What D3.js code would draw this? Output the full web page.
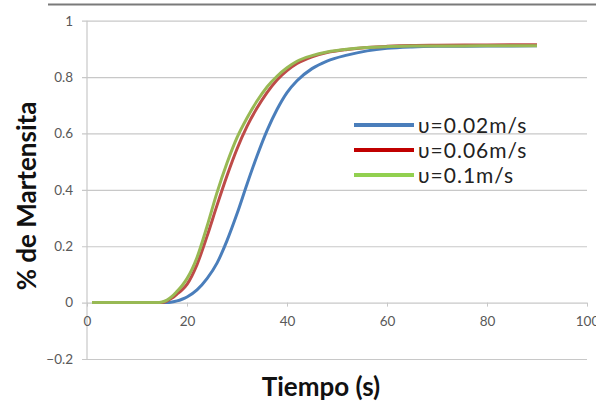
<!DOCTYPE html>
<html>
<head>
<meta charset="utf-8">
<script src="https://cdn.jsdelivr.net/npm/d3@7"></script>
<style>
  body { margin: 0; background: #fff; }
  svg { display: block; }
  .tick text { font-family: Lato, sans-serif; fill: #595959; }
</style>
</head>
<body>
<div id="chart"></div>
<script>
// data ---------------------------------------------------------------------------------------------
const times = [1, 5, 10, 14, 15, 16, 17, 18, 19, 20, 22, 24, 26, 28, 30, 32, 34, 36, 38, 40, 42, 45, 48, 52, 56, 60, 65, 70, 80, 90];

const v002 = [0, 0, 0, 0, 0, 0, 0.002, 0.006, 0.012, 0.02, 0.045, 0.085, 0.14, 0.22, 0.315, 0.42, 0.52, 0.61, 0.685, 0.745, 0.787, 0.83, 0.857, 0.878, 0.893, 0.902, 0.907, 0.909, 0.91, 0.911];
const v006 = [0, 0, 0, 0, 0, 0.006, 0.016, 0.03, 0.045, 0.065, 0.135, 0.235, 0.345, 0.45, 0.545, 0.625, 0.69, 0.745, 0.79, 0.823, 0.848, 0.872, 0.887, 0.898, 0.905, 0.909, 0.912, 0.913, 0.914, 0.915];
const v01  = [0, 0, 0, 0, 0.002, 0.009, 0.022, 0.04, 0.06, 0.085, 0.16, 0.27, 0.39, 0.495, 0.585, 0.655, 0.715, 0.765, 0.803, 0.833, 0.856, 0.876, 0.889, 0.899, 0.905, 0.908, 0.91, 0.91, 0.911, 0.911];

const seriesNames = ['\u03c5=0.02m/s', '\u03c5=0.06m/s', '\u03c5=0.1m/s'];
const lineColors = ['#4a7ebb', '#be4b48', '#98b954'];
const legendColors = ['#4a7ebb', '#c00000', '#92d050'];

const xTicks = [0, 20, 40, 60, 80, 100];
const yTicks = [-0.2, 0, 0.2, 0.4, 0.6, 0.8, 1];

// chart --------------------------------------------------------------------------------------------
const width = 596;
const height = 406;

const svg = d3.select('#chart')
    .append('svg')
    .attr('width', width)
    .attr('height', height);

const xScale = d3.scaleLinear().domain([0, 100]).range([87, 587]);
const yScale = d3.scaleLinear().domain([-0.2, 1]).range([359, 20.7]);

// top frame line
svg.append('line')
    .attr('x1', 48).attr('x2', 596)
    .attr('y1', 4.5).attr('y2', 4.5)
    .attr('stroke', '#7a7a7a')
    .attr('stroke-width', 2);

// y axis with gridlines
const yAxis = svg.append('g')
    .attr('transform', `translate(${xScale(0)},0)`)
    .call(d3.axisLeft(yScale)
        .tickValues(yTicks)
        .tickSize(-(xScale(100) - xScale(0)))
        .tickPadding(14)
        .tickFormat(d => d3.format('')(+d.toFixed(1))));
yAxis.select('.domain').remove();
yAxis.selectAll('.tick line')
    .attr('x1', -5)
    .attr('stroke', '#c8c8c8')
    .attr('stroke-width', 1.2);
yAxis.selectAll('.tick text').attr('font-size', 13.5);

// vertical axis line
svg.append('line')
    .attr('x1', xScale(0)).attr('x2', xScale(0))
    .attr('y1', yScale(1)).attr('y2', yScale(-0.2))
    .attr('stroke', '#c8c8c8')
    .attr('stroke-width', 1.2);

// x axis on zero line
const xAxis = svg.append('g')
    .attr('transform', `translate(0,${yScale(0)})`)
    .call(d3.axisBottom(xScale)
        .tickValues(xTicks)
        .tickSize(4)
        .tickPadding(10));
xAxis.select('.domain').remove();
xAxis.selectAll('.tick line').attr('stroke', '#c8c8c8');
xAxis.selectAll('.tick text').attr('font-size', 13.5);

// lines
const line = d3.line()
    .x((d, i) => xScale(times[i]))
    .y(d => yScale(d))
    .curve(d3.curveMonotoneX);

[v002, v006, v01].forEach((vals, i) => {
    svg.append('path')
        .datum(vals)
        .attr('fill', 'none')
        .attr('stroke', lineColors[i])
        .attr('stroke-width', 3)
        .attr('d', line);
});

// legend
const legend = svg.append('g')
    .selectAll('g')
    .data(seriesNames)
    .join('g')
    .attr('transform', (d, i) => `translate(354,${125 + i * 25})`);

legend.append('line')
    .attr('x1', 0).attr('x2', 60)
    .attr('stroke', (d, i) => legendColors[i])
    .attr('stroke-width', 4);

legend.append('text')
    .attr('x', 64)
    .attr('dy', '0.36em')
    .attr('font-family', 'Lato, sans-serif')
    .attr('font-size', 21)
    .attr('letter-spacing', 1)
    .attr('fill', '#222')
    .text(d => d);

// axis titles
svg.append('text')
    .attr('x', 321)
    .attr('y', 396)
    .attr('text-anchor', 'middle')
    .attr('font-family', 'Lato, sans-serif')
    .attr('font-weight', 'bold')
    .attr('font-size', 26)
    .attr('fill', '#111')
    .text('Tiempo (s)');

svg.append('text')
    .attr('transform', 'rotate(-90)')
    .attr('x', -196)
    .attr('y', 36)
    .attr('text-anchor', 'middle')
    .attr('font-family', 'Lato, sans-serif')
    .attr('font-weight', 'bold')
    .attr('font-size', 26)
    .attr('fill', '#111')
    .text('% de Martensita');
</script>
</body>
</html>
